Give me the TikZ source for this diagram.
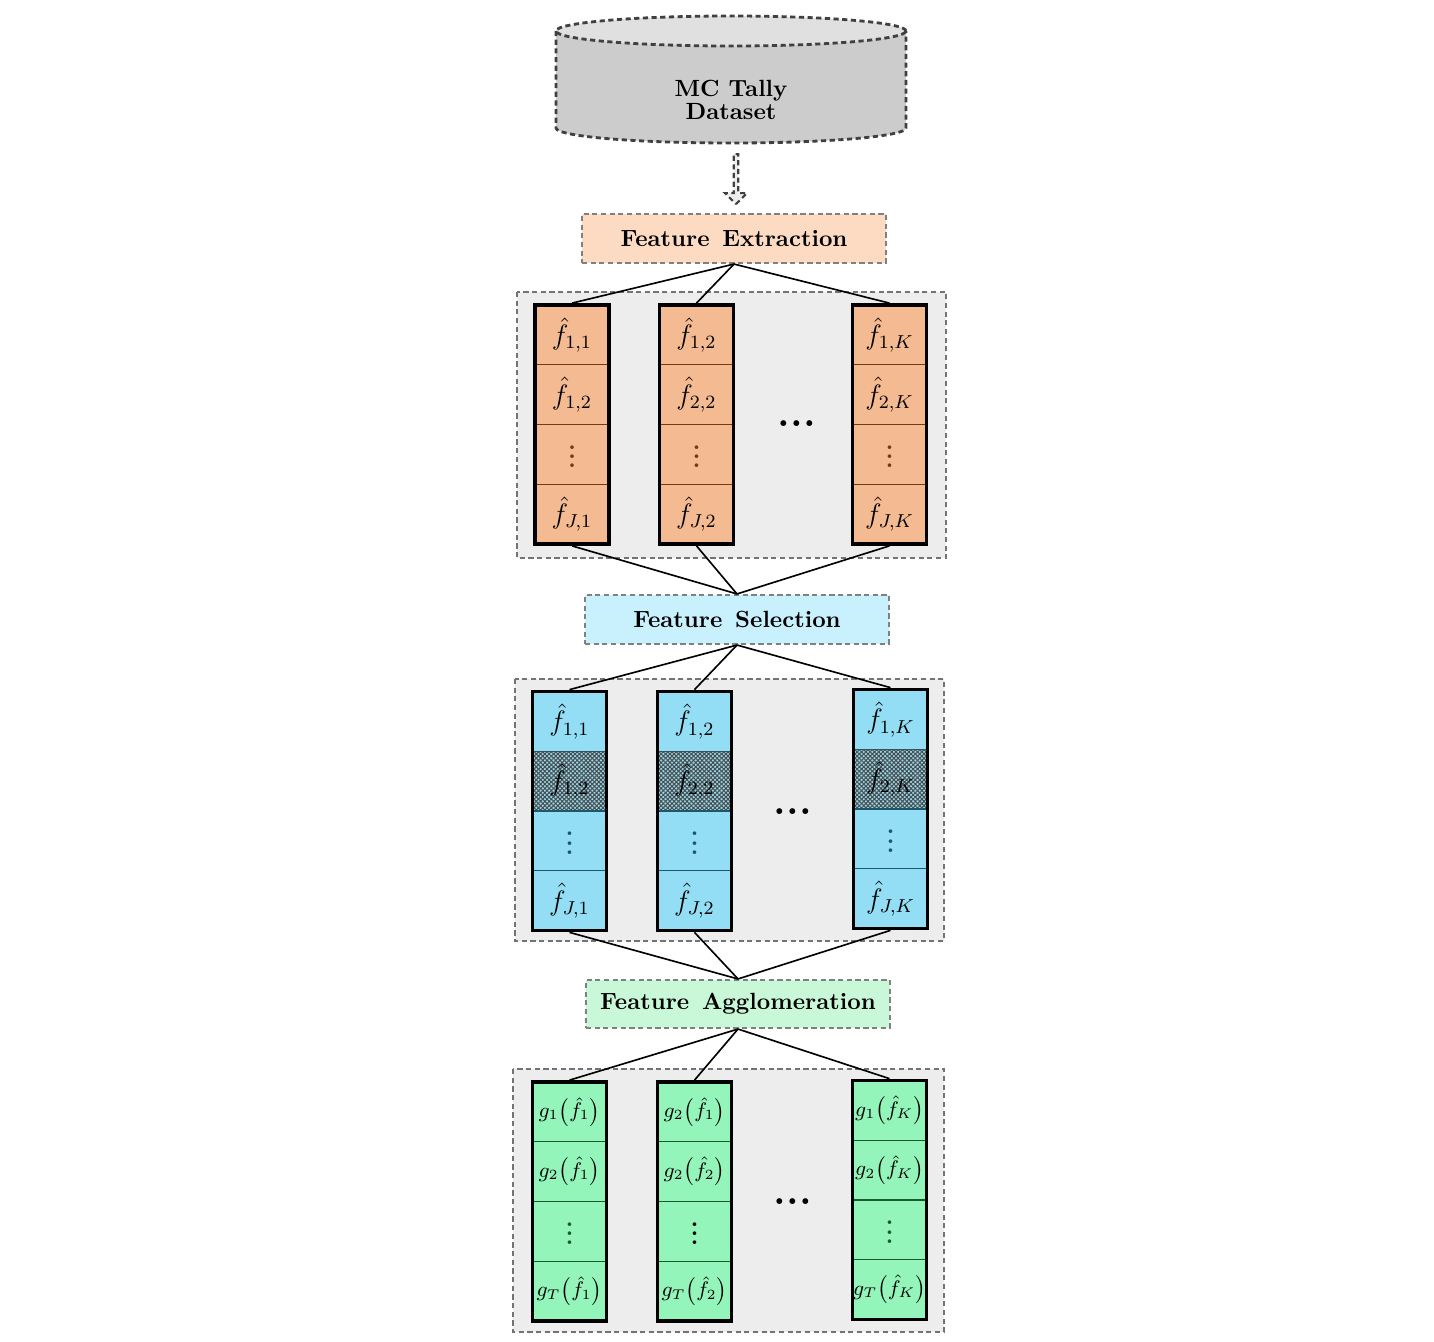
\documentclass[tikz,border=0pt]{standalone}
\usetikzlibrary{shapes.arrows,patterns.meta}

\definecolor{extbox}{HTML}{FDDAC2}
\definecolor{extcol}{HTML}{F4BA91}
\definecolor{extline}{HTML}{7A3A10}
\definecolor{selbox}{HTML}{C8F1FD}
\definecolor{selcol}{HTML}{93DEF4}
\definecolor{selline}{HTML}{1E5868}
\definecolor{aggbox}{HTML}{C9F8D8}
\definecolor{aggcol}{HTML}{93F5BA}
\definecolor{aggline}{HTML}{1B5A2E}

\begin{document}
\begin{tikzpicture}[x=0.015cm, y=0.015cm,
  dashlook/.style={dash pattern=on 2.2pt off 1.5pt},
  stage/.style={draw=black!50, dashlook, line width=0.9pt, minimum width=304*\px, minimum height=49*\px, inner sep=0pt, font=\bfseries},
  panel/.style={draw=black!55, fill=black!7, line width=1pt, dashlook},
  colbox/.style={draw=black, line width=1.6pt, minimum width=74*\px, minimum height=239*\px, inner sep=0pt},
  cell/.style={minimum width=74*\px, minimum height=59.75*\px, inner sep=0pt, line width=0.5pt},
  extcell/.style={cell, draw=extline, fill=extcol, text=black, font=\large},
  selcell/.style={cell, draw=selline, fill=selcol, text=black, font=\large},
  dropcell/.style={selcell, postaction={pattern={Hatch[angle=45, distance=1.3pt, line width=0.45pt]}, pattern color=black!70}},
  aggcell/.style={cell, draw=aggline, fill=aggcol, text=black, font=\small},
  dotsmark/.style={font=\LARGE\bfseries},
  link/.style={line width=0.7pt}
]

\def\px{0.015cm}
\def\vd{\raisebox{4pt}{\normalsize\bfseries\vdots}}

\useasboundingbox (0,0) rectangle (1434,-1342);

% database
\fill[black!20] (556,-31) rectangle (906,-128);
\fill[black!20] (731,-128) ellipse [x radius=175, y radius=15];
\fill[black!12] (731,-31) ellipse [x radius=175, y radius=15];
\draw[black!75, line width=1.2pt, dashlook]
(556,-31) -- (556,-128) arc[start angle=180, end angle=360, x radius=175, y radius=15] -- (906,-31);
\draw[black!75, line width=1.2pt, dashlook]
(731,-31) ellipse [x radius=175, y radius=15];
\node[font=\bfseries, align=center] (db) at (731,-100) {MC\ Tally\\[-2pt]Dataset};

\node[single arrow, rotate=-90, draw=black!75, fill=black!7, line width=0.9pt, dashlook,
  minimum height=50*\px, minimum width=22*\px, single arrow head extend=4*\px, inner sep=0pt] (arr) at (736,-178) {};

% stages
\node[stage, fill=extbox] (fe) at (734,-238.5) {Feature\ \,Extraction};
\node[stage, fill=selbox] (fs) at (737,-619.5) {Feature\ \,Selection};
\node[stage, fill=aggbox, minimum height=48*\px] (fa) at (738,-1004) {Feature\ \,Agglomeration};

% panels
\draw[panel] (517,-292) rectangle (946,-558);
\draw[panel] (515,-679) rectangle (944,-941);
\draw[panel] (513,-1069) rectangle (944,-1332);

% extraction
\node[extcell] (e11) at (572,-334.9) {$\hat f_{1,1}$};
\node[extcell] (e12) at (572,-394.6) {$\hat f_{1,2}$};
\node[extcell, text=extline] (e13) at (572,-454.4) {\vd};
\node[extcell] (e14) at (572,-514.1) {$\hat f_{J,1}$};
\node[extcell] (e21) at (696.5,-334.9) {$\hat f_{1,2}$};
\node[extcell] (e22) at (696.5,-394.6) {$\hat f_{2,2}$};
\node[extcell, text=extline] (e23) at (696.5,-454.4) {\vd};
\node[extcell] (e24) at (696.5,-514.1) {$\hat f_{J,2}$};
\node[extcell] (e31) at (889.5,-334.9) {$\hat f_{1,K}$};
\node[extcell] (e32) at (889.5,-394.6) {$\hat f_{2,K}$};
\node[extcell, text=extline] (e33) at (889.5,-454.4) {\vd};
\node[extcell] (e34) at (889.5,-514.1) {$\hat f_{J,K}$};
\node[colbox] (e1) at (572,-424.5) {};
\node[colbox] (e2) at (696.5,-424.5) {};
\node[colbox] (e3) at (889.5,-424.5) {};
\node[dotsmark] (edots) at (797,-424) {...};

% selection
\node[selcell] (s11) at (569.5,-721.4) {$\hat f_{1,1}$};
\node[dropcell] (s12) at (569.5,-781.1) {$\hat f_{1,2}$};
\node[selcell, text=selline] (s13) at (569.5,-840.9) {\vd};
\node[selcell] (s14) at (569.5,-900.6) {$\hat f_{J,1}$};
\node[selcell] (s21) at (694.5,-721.4) {$\hat f_{1,2}$};
\node[dropcell] (s22) at (694.5,-781.1) {$\hat f_{2,2}$};
\node[selcell, text=selline] (s23) at (694.5,-840.9) {\vd};
\node[selcell] (s24) at (694.5,-900.6) {$\hat f_{J,2}$};
\node[selcell] (s31) at (890.5,-719.4) {$\hat f_{1,K}$};
\node[dropcell] (s32) at (890.5,-779.1) {$\hat f_{2,K}$};
\node[selcell, text=selline] (s33) at (890.5,-838.9) {\vd};
\node[selcell] (s34) at (890.5,-898.6) {$\hat f_{J,K}$};
\node[colbox] (s1) at (569.5,-811) {};
\node[colbox] (s2) at (694.5,-811) {};
\node[colbox] (s3) at (890.5,-809) {};
\node[dotsmark] (sdots) at (793,-812) {...};

% agglomeration
\node[aggcell] (a11) at (569.5,-1111.9) {$g_1\bigl(\hat f_1\bigr)$};
\node[aggcell] (a12) at (569.5,-1171.6) {$g_2\bigl(\hat f_1\bigr)$};
\node[aggcell, text=aggline] (a13) at (569.5,-1231.4) {\vd};
\node[aggcell] (a14) at (569.5,-1291.1) {$g_T\bigl(\hat f_1\bigr)$};
\node[aggcell] (a21) at (694.5,-1111.9) {$g_2\bigl(\hat f_1\bigr)$};
\node[aggcell] (a22) at (694.5,-1171.6) {$g_2\bigl(\hat f_2\bigr)$};
\node[aggcell] (a23) at (694.5,-1231.4) {\vd};
\node[aggcell] (a24) at (694.5,-1291.1) {$g_T\bigl(\hat f_2\bigr)$};
\node[aggcell] (a31) at (889.5,-1110.4) {$g_1\bigl(\hat f_K\bigr)$};
\node[aggcell] (a32) at (889.5,-1170.1) {$g_2\bigl(\hat f_K\bigr)$};
\node[aggcell, text=aggline] (a33) at (889.5,-1229.9) {\vd};
\node[aggcell] (a34) at (889.5,-1289.6) {$g_T\bigl(\hat f_K\bigr)$};
\node[colbox] (a1) at (569.5,-1201.5) {};
\node[colbox] (a2) at (694.5,-1201.5) {};
\node[colbox] (a3) at (889.5,-1200) {};
\node[dotsmark] (adots) at (793,-1202) {...};

% links
\draw[link] (fe.south) -- (e1.north);
\draw[link] (fe.south) -- (e2.north);
\draw[link] (fe.south) -- (e3.north);
\draw[link] (e1.south) -- (fs.north);
\draw[link] (e2.south) -- (fs.north);
\draw[link] (e3.south) -- (fs.north);
\draw[link] (fs.south) -- (s1.north);
\draw[link] (fs.south) -- (s2.north);
\draw[link] (fs.south) -- (s3.north);
\draw[link] (s1.south) -- (fa.north);
\draw[link] (s2.south) -- (fa.north);
\draw[link] (s3.south) -- (fa.north);
\draw[link] (fa.south) -- (a1.north);
\draw[link] (fa.south) -- (a2.north);
\draw[link] (fa.south) -- (a3.north);

\end{tikzpicture}
\end{document}
